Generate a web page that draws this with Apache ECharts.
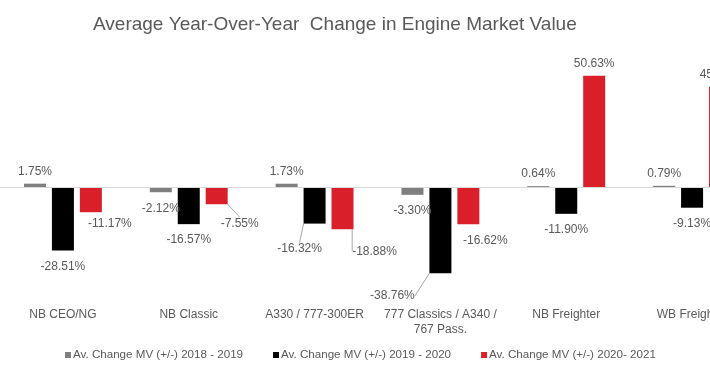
<!DOCTYPE html>
<html>
<head>
<meta charset="utf-8">
<script src="https://cdn.jsdelivr.net/npm/echarts@6/dist/echarts.min.js"></script>
<style>
  html, body { margin: 0; padding: 0; overflow: hidden; background: #fff; }
  #chart { width: 760px; height: 375px; }
</style>
</head>
<body>
<div id="chart"></div>
<script>
var categories = ['NB CEO/NG', 'NB Classic', 'A330 / 777-300ER', '777 Classics / A340 /\n767 Pass.', 'NB Freighter', 'WB Freighter'];
var seriesNames = ['Av. Change MV (+/-) 2018 - 2019', 'Av. Change MV (+/-) 2019 - 2020', 'Av. Change MV (+/-) 2020- 2021'];
var change1819 = [1.75, -2.12, 1.73, -3.30, 0.64, 0.79];
var change1920 = [-28.51, -16.57, -16.32, -38.76, -11.90, -9.13];
var change2021 = [-11.17, -7.55, -18.88, -16.62, 50.63, 45.60];

// label shifts [dx, dy, leader line] per series, like the moved labels in the original
var labelShift = [
  [null, null, null, null, null, null],
  [null, null, [-15, 9, true], [-48, 7, true], null, null],
  [[19, -5, false], [23, 3, true], [32, 6, true], [17, 0, false], null, null]
];

var colors = ['#7f7f7f', '#000000', '#d9202a'];
var textColor = '#595959';
var font = '"Liberation Sans", Arial, sans-serif';

var chart = echarts.init(document.getElementById('chart'));

function makeSeries(idx, values) {
  return {
    name: seriesNames[idx],
    type: 'bar',
    barWidth: 22,
    barGap: '27%',
    data: values.map(function (v, i) {
      var s = labelShift[idx][i];
      return {
        value: v,
        label: v >= 0 ? { position: 'top', distance: 6 } : { position: 'bottom', distance: 10 },
        labelLine: { show: !!(s && s[2]) }
      };
    }),
    itemStyle: { color: colors[idx] },
    label: {
      show: true,
      color: textColor,
      fontFamily: font,
      fontSize: 12,
      formatter: function (p) { return p.value.toFixed(2) + '%'; }
    },
    labelLine: { show: false, lineStyle: { color: '#a6a6a6', width: 1 } },
    labelLayout: function (p) {
      var s = labelShift[idx][p.dataIndex];
      return s ? { dx: s[0], dy: s[1] } : {};
    }
  };
}

var series = [
  makeSeries(0, change1819),
  makeSeries(1, change1920),
  makeSeries(2, change2021)
];
series[0].markLine = {
  silent: true,
  symbol: ['none', 'none'],
  label: { show: false },
  lineStyle: { color: '#d9d9d9', type: 'solid', width: 1 },
  data: [{ yAxis: 0 }]
};

var option = {
  animation: false,
  title: {
    text: 'Average Year-Over-Year  Change in Engine Market Value',
    left: 88,
    top: 10,
    textStyle: { color: textColor, fontFamily: font, fontSize: 19, fontWeight: 'normal' }
  },
  legend: {
    data: seriesNames,
    left: 65,
    top: 349,
    padding: 0,
    icon: 'rect',
    itemWidth: 6,
    itemHeight: 6,
    itemGap: 30,
    textStyle: { color: textColor, fontFamily: font, fontSize: 11.6, padding: [0, 0, 0, -3] }
  },
  grid: { left: -1, top: 55, width: 756, height: 243 },
  xAxis: {
    type: 'category',
    data: categories,
    axisLine: { show: false, onZero: false },
    axisTick: { show: false },
    axisLabel: { color: textColor, fontFamily: font, fontSize: 12, margin: 9, lineHeight: 15, interval: 0 }
  },
  yAxis: {
    type: 'value',
    min: -50,
    max: 60,
    show: false,
    splitLine: { show: false }
  },
  series: series
};

chart.setOption(option);
</script>
</body>
</html>
